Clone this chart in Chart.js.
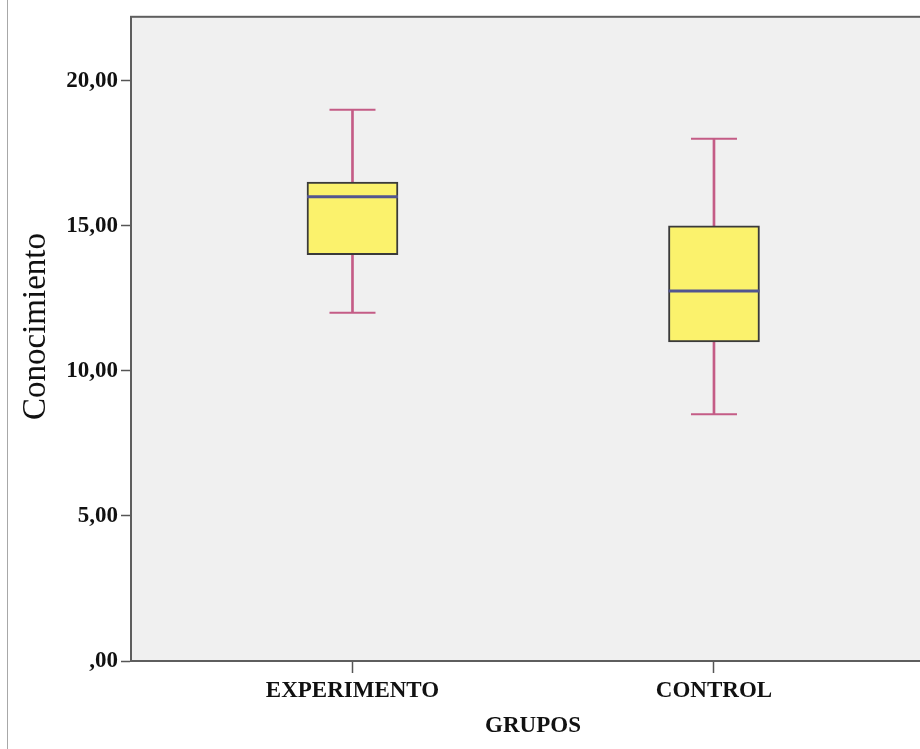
<!DOCTYPE html>
<html>
<head>
<meta charset="utf-8">
<script src="https://cdn.jsdelivr.net/npm/chart.js@4/dist/chart.umd.min.js"></script>
<style>
  html, body { margin: 0; padding: 0; background: #ffffff; overflow: hidden; width: 920px; height: 749px; }
  #wrap { position: absolute; left: 0; top: 0; width: 940px; height: 749px; }
  #edge { position: absolute; left: 7px; top: 0; width: 0; height: 749px; border-left: 1px solid #a8a8a8; }
</style>
</head>
<body>
<div id="wrap"><canvas id="c" width="940" height="749"></canvas></div>
<div id="edge"></div>
<script>
// ---- data ----
const categories = ['EXPERIMENTO', 'CONTROL'];
const whiskerMin = [12, 8.5];
const q1 = [14, 11];
const median = [16, 12.75];
const q3 = [16.5, 15];
const whiskerMax = [19, 18];
const yTicks = [0, 5, 10, 15, 20];
const yTickLabels = [',00', '5,00', '10,00', '15,00', '20,00'];
const xTitle = 'GRUPOS';
const yTitle = 'Conocimiento';

const pos = categories.map((_, i) => i + 1);

const boxData = pos.map((p, i) => ({ x: p, y: [q1[i], q3[i]] }));
const whiskerData = pos.map((p, i) => ({ x: p, y: [whiskerMin[i], whiskerMax[i]] }));
const medianData = pos.map((p, i) => ({ x: p, y: median[i] }));
const capData = pos.flatMap((p, i) => [{ x: p, y: whiskerMin[i] }, { x: p, y: whiskerMax[i] }]);

const plotBg = {
  id: 'plotBg',
  beforeDraw(chart) {
    const { ctx, chartArea: a } = chart;
    ctx.save();
    ctx.fillStyle = '#f0f0f0';
    ctx.fillRect(a.left, a.top, a.right - a.left, a.bottom - a.top);
    ctx.restore();
  },
  afterDraw(chart) {
    const { ctx, chartArea: a } = chart;
    ctx.save();
    ctx.strokeStyle = '#5e5e5e';
    ctx.lineWidth = 2;
    ctx.strokeRect(a.left, a.top, a.right - a.left, a.bottom - a.top);
    ctx.restore();
  }
};

const serif = 'Liberation Serif, Times New Roman, serif';

new Chart(document.getElementById('c'), {
  type: 'bar',
  data: {
    datasets: [
      {
        type: 'line', label: 'median', data: medianData, xAxisID: 'x', yAxisID: 'y',
        showLine: false, pointStyle: 'line', pointRadius: 45.5, pointHoverRadius: 45.5,
        borderColor: '#52558f', pointBorderColor: '#52558f', pointBorderWidth: 3, pointHoverBorderWidth: 3, order: 0
      },
      {
        type: 'line', label: 'caps', data: capData, xAxisID: 'x', yAxisID: 'y',
        showLine: false, pointStyle: 'line', pointRadius: 23, pointHoverRadius: 23,
        borderColor: '#c45c86', pointBorderColor: '#c45c86', pointBorderWidth: 2, pointHoverBorderWidth: 2, order: 0
      },
      {
        label: 'box', data: boxData, xAxisID: 'x', yAxisID: 'y', grouped: false,
        barThickness: 91, backgroundColor: '#fbf26c', borderColor: '#3a3a3a', borderWidth: 2,
        borderSkipped: false, order: 1
      },
      {
        label: 'whisker', data: whiskerData, xAxisID: 'x', yAxisID: 'y', grouped: false,
        barThickness: 2, backgroundColor: '#c45c86', borderWidth: 0, order: 2
      }
    ]
  },
  options: {
    responsive: false,
    animation: false,
    devicePixelRatio: 1,
    events: [],
    layout: { autoPadding: false, padding: { top: 14, right: 5, left: 0, bottom: 0 } },
    plugins: { legend: { display: false }, tooltip: { enabled: false } },
    scales: {
      x: {
        type: 'linear', position: 'bottom', offset: false, min: 0.3873, max: 2.6114,
        afterBuildTicks(scale) { scale.ticks = pos.map(v => ({ value: v })); },
        afterFit(scale) { scale.height = 88; },
        ticks: {
          autoSkip: false, maxRotation: 0, padding: 4,
          color: '#111', font: { family: serif, size: 23, weight: 'bold' },
          callback: (v) => categories[Math.round(v) - 1] ?? ''
        },
        grid: { offset: false, drawOnChartArea: false, tickLength: 12, color: '#555', tickWidth: 1.5 },
        border: { display: true, color: '#5e5e5e', width: 2 },
        title: {
          display: true, text: xTitle, color: '#111',
          font: { family: serif, size: 23, weight: 'bold' },
          padding: { top: 0, bottom: 9 }
        }
      },
      y: {
        type: 'linear', position: 'left', min: 0, max: 22.2,
        afterBuildTicks(scale) { scale.ticks = yTicks.map(v => ({ value: v })); },
        afterFit(scale) { scale.width = 131; },
        ticks: {
          padding: 3, color: '#111', font: { family: serif, size: 23, weight: 'bold' },
          callback: (v) => yTickLabels[yTicks.indexOf(v)]
        },
        grid: { drawOnChartArea: false, tickLength: 10, color: '#555', tickWidth: 1.5 },
        border: { display: true, color: '#5e5e5e', width: 2 },
        title: {
          display: true, text: '   ' + yTitle, color: '#111',
          font: { family: serif, size: 33, weight: 'normal' },
          padding: { top: 17, bottom: 0 }
        }
      }
    }
  },
  plugins: [plotBg]
});
</script>
</body>
</html>
